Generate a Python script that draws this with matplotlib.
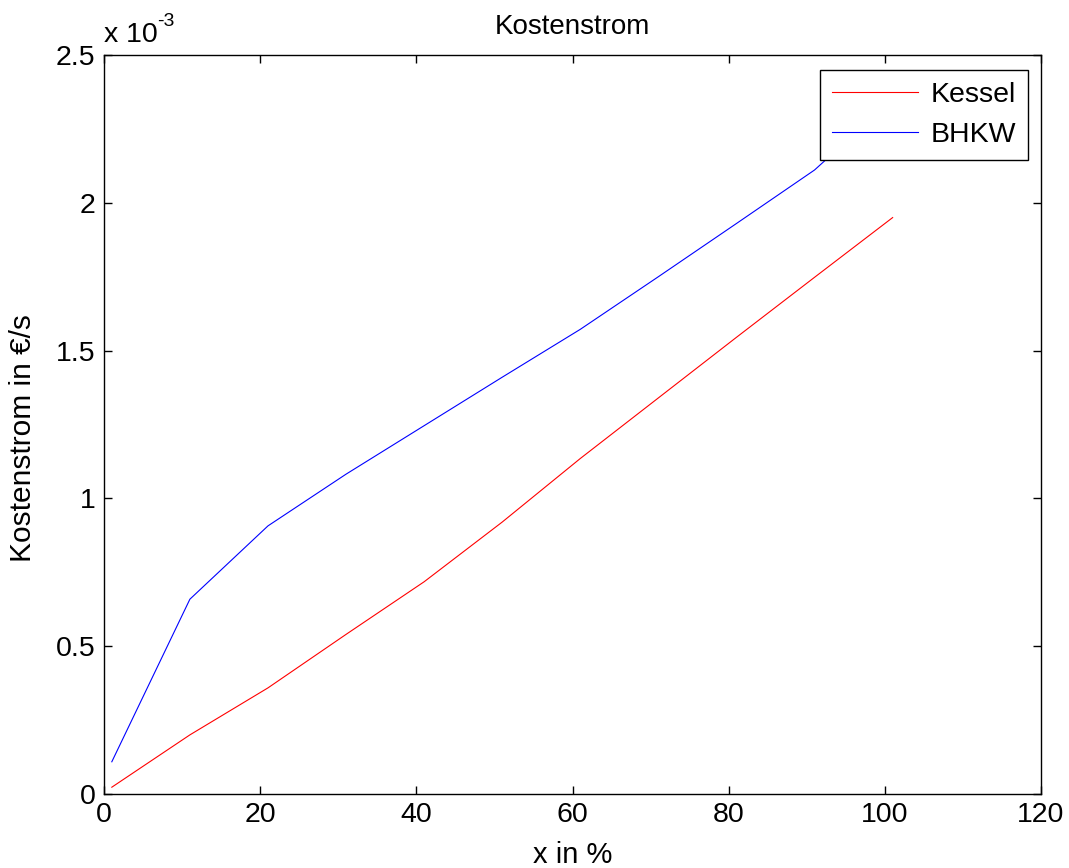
import matplotlib
matplotlib.use("Agg")
import matplotlib.pyplot as plt
from matplotlib.ticker import FuncFormatter, MultipleLocator

plt.rcParams['font.family'] = ['Liberation Sans', 'DejaVu Sans']

# Data (Kostenstrom in €/s)
x_pct = [1, 11, 21, 31, 41, 51, 61, 71, 81, 91, 101]
kessel = [0.023e-3, 0.200e-3, 0.359e-3, 0.540e-3, 0.718e-3, 0.920e-3,
          1.135e-3, 1.340e-3, 1.545e-3, 1.748e-3, 1.950e-3]
bhkw = [0.109e-3, 0.659e-3, 0.907e-3, 1.082e-3, 1.246e-3, 1.410e-3,
        1.572e-3, 1.750e-3, 1.930e-3, 2.111e-3, 2.350e-3]
series_names = ["Kessel", "BHKW"]
title = "Kostenstrom"
xlabel = "x in %"
ylabel = "Kostenstrom in €/s"

W, H = 1069, 868
fig = plt.figure(figsize=(W / 100, H / 100), dpi=100)
ax = fig.add_axes([104 / W, 1 - 794 / H, (1041 - 104) / W, (794 - 55) / H])

ax.plot(x_pct, kessel, color=(1, 0, 0), lw=0.8, label=series_names[0])
ax.plot(x_pct, bhkw, color=(0, 0, 1), lw=0.8, label=series_names[1])

ax.set_xlim(0, 120)
ax.set_ylim(0, 2.5e-3)
ax.xaxis.set_major_locator(MultipleLocator(20))
ax.yaxis.set_major_locator(MultipleLocator(0.5e-3))
ax.yaxis.set_major_formatter(FuncFormatter(lambda v, p: f"{v * 1e3:g}"))
ax.tick_params(direction='in', length=6, width=1, labelsize=20.5, pad=6,
               top=True, right=True, colors='black')
for s in ax.spines.values():
    s.set_linewidth(1.0)
    s.set_color('black')

ax.set_title(title, fontsize=20, pad=15)
ax.set_xlabel(xlabel, fontsize=21)
ax.set_ylabel(ylabel, fontsize=21.5)
ax.xaxis.set_label_coords(0.5, -0.064)
ax.yaxis.set_label_coords(-0.071, 0.482)

leg = ax.legend(loc='upper right', bbox_to_anchor=(1028 / W, 1 - 70 / H),
                bbox_transform=fig.transFigure, fontsize=20.5, fancybox=False,
                framealpha=1, edgecolor='black', handlelength=3.0,
                handletextpad=0.45, borderpad=0.42, labelspacing=0.48,
                borderaxespad=0)
leg.get_frame().set_linewidth(1.0)

fig.text(104 / W, 1 - 42 / H, "x 10", fontsize=20.5, ha='left', va='baseline')
fig.text(157 / W, 1 - 26 / H, "-3", fontsize=14, ha='left', va='baseline')

fig.savefig("out.png", dpi=100)
